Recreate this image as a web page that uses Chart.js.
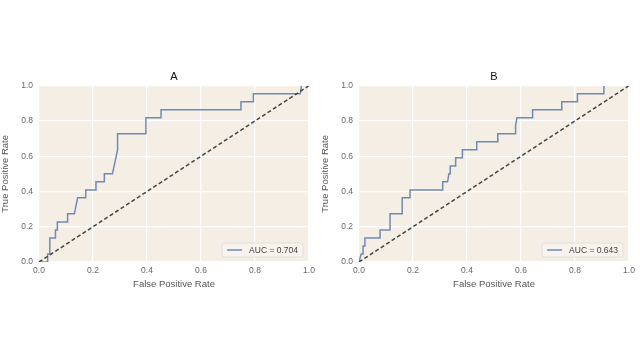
<!DOCTYPE html>
<html>
<head>
<meta charset="utf-8">
<script src="https://cdn.jsdelivr.net/npm/chart.js@4"></script>
<style>
  html, body { margin: 0; padding: 0; background: #ffffff; }
  body { width: 640px; height: 360px; position: relative; overflow: hidden; }
  .box { position: absolute; top: 0; width: 320px; height: 300px; }
</style>
</head>
<body>
<div class="box" style="left:0"><canvas id="rocA"></canvas></div>
<div class="box" style="left:320px"><canvas id="rocB"></canvas></div>
<script>
// Daten
const ticks = [0, 0.2, 0.4, 0.6, 0.8, 1.0];
const diagX = [0, 1];
const diagY = [0, 1];

const fprA = [0, 0.032, 0.032, 0.040, 0.040, 0.061, 0.061, 0.068, 0.068, 0.106, 0.106, 0.131, 0.143, 0.173, 0.173, 0.211,
              0.211, 0.242, 0.242, 0.272, 0.291, 0.291, 0.396, 0.396, 0.452, 0.452, 0.748, 0.748, 0.794, 0.794, 0.968, 0.972];
const tprA = [0, 0, 0.045, 0.045, 0.136, 0.136, 0.182, 0.182, 0.227, 0.227, 0.273, 0.273, 0.364, 0.364, 0.409, 0.409,
              0.455, 0.455, 0.5, 0.5, 0.636, 0.727, 0.727, 0.818, 0.818, 0.864, 0.864, 0.909, 0.909, 0.955, 0.955, 1.0];

const fprB = [0, 0.008, 0.015, 0.015, 0.022, 0.022, 0.078, 0.078, 0.115, 0.115, 0.160, 0.160, 0.189, 0.189, 0.310, 0.310,
              0.328, 0.333, 0.338, 0.338, 0.358, 0.358, 0.383, 0.383, 0.436, 0.436, 0.514, 0.514, 0.578, 0.580, 0.585,
              0.643, 0.643, 0.751, 0.751, 0.809, 0.809, 0.907, 0.907];
const tprB = [0, 0.045, 0.045, 0.091, 0.091, 0.136, 0.136, 0.182, 0.182, 0.273, 0.273, 0.364, 0.364, 0.409, 0.409, 0.455,
              0.455, 0.5, 0.5, 0.545, 0.545, 0.591, 0.591, 0.636, 0.636, 0.682, 0.682, 0.727, 0.727, 0.773, 0.818,
              0.818, 0.864, 0.864, 0.909, 0.909, 0.955, 0.955, 1.0];

const aucA = 0.704;
const aucB = 0.643;

// Kolory
const bgColor = '#f5eee4';
const lineColor = '#7189b5';
const textColor = '#555555';
const fontFamily = '"Liberation Sans", Arial, sans-serif';

Chart.defaults.font.family = fontFamily;
Chart.defaults.color = textColor;

// Tło obszaru wykresu
const plotBackground = {
    id: 'plotBackground',
    beforeDraw(chart) {
        const { ctx, chartArea: a } = chart;
        ctx.save();
        ctx.fillStyle = bgColor;
        ctx.fillRect(a.left, a.top, a.right - a.left, a.bottom - a.top);
        ctx.restore();
    }
};

// Legenda wewnątrz wykresu (prawy dolny róg)
const innerLegend = {
    id: 'innerLegend',
    afterDraw(chart) {
        const { ctx, chartArea: a } = chart;
        const label = chart.data.datasets[0].label;
        ctx.save();
        ctx.font = '8.5px ' + fontFamily;
        const textW = ctx.measureText(label).width;
        const w = textW + 32, h = 14;
        const x = a.right - 6 - w, y = a.bottom - 5 - h;
        ctx.beginPath();
        ctx.roundRect(x, y, w, h, 2);
        ctx.fillStyle = 'rgba(248,244,238,0.85)';
        ctx.fill();
        ctx.strokeStyle = '#dcdcdc';
        ctx.lineWidth = 0.8;
        ctx.stroke();
        ctx.beginPath();
        ctx.moveTo(x + 5, y + h / 2);
        ctx.lineTo(x + 20, y + h / 2);
        ctx.strokeStyle = lineColor;
        ctx.lineWidth = 1.5;
        ctx.stroke();
        ctx.fillStyle = '#444444';
        ctx.textBaseline = 'middle';
        ctx.fillText(label, x + 27, y + h / 2 + 0.5);
        ctx.restore();
    }
};

function toPoints(xs, ys) {
    return xs.map((x, i) => ({ x: x, y: ys[i] }));
}

function axisConfig(title, isX) {
    return {
        type: 'linear',
        min: 0,
        max: 1,
        afterBuildTicks: scale => { scale.ticks = ticks.map(v => ({ value: v })); },
        afterFit: scale => {
            if (isX) scale.height = 28;
            else scale.width = 39;
        },
        border: { display: false },
        grid: { color: '#ffffff', lineWidth: 1.2, drawTicks: false },
        ticks: {
            color: '#666666',
            font: { size: 8.5 },
            padding: isX ? 4 : 6,
            callback: v => v.toFixed(1)
        },
        title: {
            display: true,
            text: title,
            color: textColor,
            font: { size: 9.5 },
            padding: isX ? { top: 1, bottom: 0 } : { top: 0, bottom: 3 }
        }
    };
}

function createRocChart(id, title, fpr, tpr, auc) {
    const ctx = document.getElementById(id).getContext('2d');
    return new Chart(ctx, {
        type: 'scatter',
        data: {
            datasets: [
                {
                    label: 'AUC = ' + auc.toFixed(3),
                    data: toPoints(fpr, tpr),
                    showLine: true,
                    borderColor: lineColor,
                    borderWidth: 1.5,
                    pointRadius: 0,
                    fill: false,
                    order: 1
                },
                {
                    label: 'diag',
                    data: toPoints(diagX, diagY),
                    showLine: true,
                    borderColor: '#444444',
                    borderWidth: 1.5,
                    borderDash: [4, 2.5],
                    pointRadius: 0,
                    fill: false,
                    order: 0
                }
            ]
        },
        options: {
            responsive: false,
            animation: false,
            layout: { padding: { top: 70, left: 0, right: 11, bottom: 10 } },
            plugins: {
                legend: { display: false },
                tooltip: { enabled: false },
                title: {
                    display: true,
                    fullSize: false,
                    text: title,
                    color: '#111111',
                    font: { size: 11, weight: 'normal' },
                    padding: { top: 0, bottom: 2.5 }
                }
            },
            scales: {
                x: axisConfig('False Positive Rate', true),
                y: axisConfig('True Positive Rate', false)
            }
        },
        plugins: [plotBackground, innerLegend]
    });
}

function sizeCanvas(id) {
    const c = document.getElementById(id);
    c.width = 320;
    c.height = 300;
    c.style.width = '320px';
    c.style.height = '300px';
}

sizeCanvas('rocA');
sizeCanvas('rocB');
createRocChart('rocA', 'A', fprA, tprA, aucA);
createRocChart('rocB', 'B', fprB, tprB, aucB);
</script>
</body>
</html>
